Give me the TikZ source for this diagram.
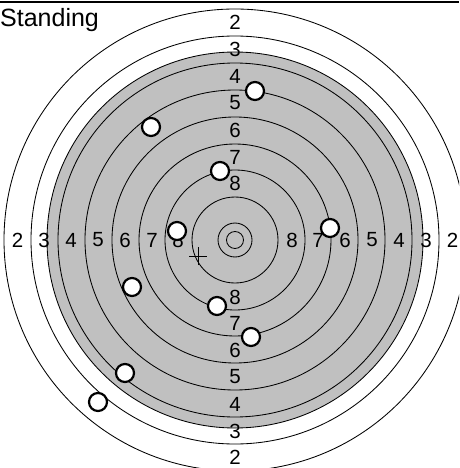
\documentclass[tikz,border=0pt]{standalone}
\usepackage{fontspec}
\setmainfont{Liberation Sans}
\usetikzlibrary{calc}
\definecolor{targetgray}{RGB}{192,192,192}
\begin{document}
\begin{tikzpicture}[x=1pt,y=-1pt,
  ring/.style={draw=black,line width=0.85pt},
  lbl/.style={font=\fontsize{20.5}{20.5}\selectfont, inner sep=0pt},
  shot/.style={circle, draw=black, fill=white, line width=2.2pt, minimum size=18pt, inner sep=0pt}]
\useasboundingbox (0,0) rectangle (459,468);
\clip (0,0) rectangle (459,468);
\coordinate (c) at (235,240);
% black (gray) aiming mark
\fill[targetgray] (c) circle[radius=188pt];
\draw[ring] (c) circle[radius=188pt];
% rings
\foreach \r in {8.5,17,43,70,96,123,150,177,204,231}
  \draw[ring] (c) circle[radius=\r pt];
% ring numbers
\foreach \n/\r in {2/217.5,3/191,4/164,5/137,6/110,7/83,8/57}{
  \node[lbl] (L\n) at ($(c)+(-\r,0)$) {\n};
  \node[lbl] (R\n) at ($(c)+(\r,0)$) {\n};
  \node[lbl] (T\n) at ($(c)+(0,-\r)$) {\n};
  \node[lbl] (B\n) at ($(c)+(0,\r)$) {\n};
}
% title and top rule
\node[font=\fontsize{25}{25}\selectfont, inner sep=0pt, anchor=base west] (title) at (0,26.5) {Standing};
\coordinate (ruleL) at (0,2);
\coordinate (ruleR) at (459,2);
\draw[line width=1.3pt] (ruleL) -- (ruleR);
% hit marker
\coordinate (hit) at (198,256);
\draw[line width=0.9pt] ([xshift=-9pt]hit) -- ([xshift=9pt]hit);
\draw[line width=0.9pt] ([yshift=-9pt]hit) -- ([yshift=9pt]hit);
% shots
\node[shot] (s1) at (255,91) {};
\node[shot] (s2) at (151,127) {};
\node[shot] (s3) at (220,171) {};
\node[shot] (s4) at (177,231) {};
\node[shot] (s5) at (330,228) {};
\node[shot] (s6) at (132,287) {};
\node[shot] (s7) at (217,306) {};
\node[shot] (s8) at (251,337) {};
\node[shot] (s9) at (125,373) {};
\node[shot] (s10) at (98,402) {};
\end{tikzpicture}
\end{document}
